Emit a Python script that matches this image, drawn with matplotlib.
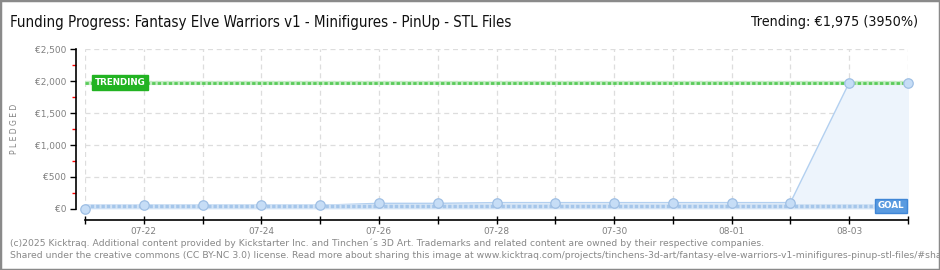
import numpy as np
import matplotlib
matplotlib.use('Agg')
import matplotlib.pyplot as plt
from matplotlib.patches import Rectangle

# Data
DATES = ['07-21', '07-22', '07-23', '07-24', '07-25', '07-26', '07-27', '07-28',
         '07-29', '07-30', '07-31', '08-01', '08-02', '08-03', '08-04']
PLEDGED = [0, 58, 58, 58, 58, 89, 89, 100, 100, 100, 100, 100, 100, 1975, 1975]
GOAL = 50
TRENDING = 1975
Y_TICKS = [0, 500, 1000, 1500, 2000, 2500]

TITLE = "Funding Progress: Fantasy Elve Warriors v1 - Minifigures - PinUp - STL Files"
TREND_TEXT = "Trending: \u20ac1,975 (3950%)"
FOOTER_1 = ("(c)2025 Kicktraq. Additional content provided by Kickstarter Inc. and Tinchen\u00b4s 3D Art. "
            "Trademarks and related content are owned by their respective companies.")
FOOTER_2 = ("Shared under the creative commons (CC BY-NC 3.0) license. Read more about sharing this image at "
            "www.kicktraq.com/projects/tinchens-3d-art/fantasy-elve-warriors-v1-minifigures-pinup-stl-files/#share")

W, H = 940, 270
fig = plt.figure(figsize=(W / 100, H / 100), dpi=100)
fig.patch.set_facecolor('white')

# plot area in pixel terms
left, right, top, bottom = 85, 908, 49, 209
ax = fig.add_axes([left / W, 1 - bottom / H, (right - left) / W, (bottom - top) / H])

x = np.arange(len(DATES))
ax.set_xlim(0, len(DATES) - 1)
ax.set_ylim(0, 2500)

# grid
ax.set_axisbelow(True)
ax.grid(True, color='#dddddd', linestyle=(0, (4, 3)), linewidth=0.9)

# pledged line + fill
ax.fill_between(x, PLEDGED, 0, color='#edf4fc', zorder=1)
ax.plot(x, PLEDGED, color='#b3d0f0', linewidth=1.0, zorder=2)

# trending and goal lines
ax.axhline(TRENDING, color='#c4ecc4', linewidth=3.0, zorder=3)
ax.axhline(TRENDING, color='#5acb5a', linewidth=2.0, linestyle=(0, (1.2, 0.8)), zorder=3)
ax.axhline(GOAL, color='#d2e3f6', linewidth=3.4, zorder=3)
ax.axhline(GOAL, color='#a5c6ea', linewidth=2.4, linestyle=(0, (1.0, 0.6)), zorder=3)

ax.plot(x, PLEDGED, linestyle='none', marker='o', markersize=6.8,
        markerfacecolor='#c6ddf6', markeredgecolor='#9fbfe4', markeredgewidth=0.9,
        zorder=4, clip_on=False)

# labels on lines
ax.text(0.16, TRENDING, "TRENDING", ha='left', va='center', fontsize=6.3, color='white',
        fontweight='bold', zorder=5,
        bbox=dict(boxstyle='square,pad=0.3', facecolor='#22b322', edgecolor='#22b322'))
ax.text(13.93, GOAL, "GOAL", ha='right', va='center', fontsize=6.3, color='white',
        fontweight='bold', zorder=5,
        bbox=dict(boxstyle='square,pad=0.3', facecolor='#5a9be0', edgecolor='#3f86d6'))

# spines
for s in ['top', 'right']:
    ax.spines[s].set_visible(False)
ax.spines['left'].set_position(('outward', 6.5))
ax.spines['bottom'].set_position(('outward', 8))
ax.spines['left'].set_linewidth(1.2)
ax.spines['bottom'].set_linewidth(1.2)

ax.set_yticks(Y_TICKS)
ax.set_yticklabels(['\u20ac{:,}'.format(v) for v in Y_TICKS])
ax.set_yticks([250, 750, 1250, 1750, 2250], minor=True)
ax.tick_params(axis='y', which='major', direction='out', length=4, width=1.0,
               labelsize=6.5, labelcolor='#808080', pad=3)
ax.tick_params(axis='y', which='minor', direction='out', length=3, width=1.0, color='red')

ax.set_xticks(x)
ax.set_xticklabels([d if i % 2 == 1 else '' for i, d in enumerate(DATES)])
ax.tick_params(axis='x', which='major', direction='inout', length=6, width=1.0,
               labelsize=6.5, labelcolor='#808080', pad=2)

ax.set_ylabel("P L E D G E D", fontsize=5.5, color='#808080', labelpad=11)

# header / footer
fig.text(10 / W, 1 - 22 / H, TITLE, ha='left', va='center', fontsize=10.8, color='#111111',
         fontstretch='condensed')
fig.text(918 / W, 1 - 22 / H, TREND_TEXT, ha='right', va='center', fontsize=10.3, color='#111111',
         fontstretch='condensed')
fig.text(10 / W, 1 - 243 / H, FOOTER_1, ha='left', va='center', fontsize=6.65, color='#888888')
fig.text(10 / W, 1 - 255 / H, FOOTER_2, ha='left', va='center', fontsize=6.65, color='#888888')

# outer border
fig.patches.append(Rectangle((0, 0), 1, 1, transform=fig.transFigure, fill=False,
                             edgecolor='#8a8a8a', linewidth=2.5))

fig.savefig('out.png', dpi=100)
